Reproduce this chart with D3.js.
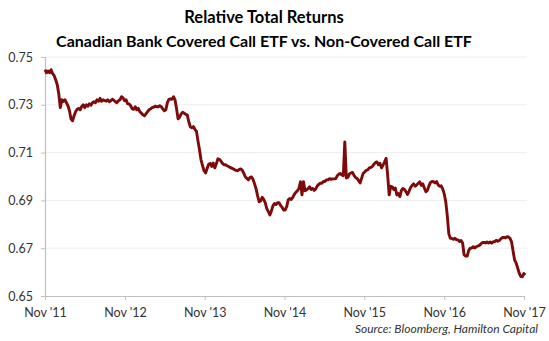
<!DOCTYPE html>
<html>
<head>
<meta charset="utf-8">
<script src="https://cdn.jsdelivr.net/npm/d3@7"></script>
<style>
  html, body { margin: 0; padding: 0; background: #fff; }
  svg { display: block; }
  text { font-family: Lato, "Open Sans", sans-serif; }
</style>
</head>
<body>
<svg id="chart" width="549" height="341"></svg>
<script>
// Weekly relative total return (covered call ETF / non-covered call ETF)
const seriesStart = "2011-11-04";
const relativeReturn = [
  0.7447, 0.7434, 0.7441, 0.7434, 0.7447, 0.7430, 0.7422, 0.7405, 0.7384, 0.7346,
  0.7288, 0.7321, 0.7314, 0.7321, 0.7309, 0.7296, 0.7275, 0.7241, 0.7233, 0.7254,
  0.7271, 0.7281, 0.7285, 0.7279, 0.7293, 0.7300, 0.7288, 0.7300, 0.7294, 0.7304,
  0.7298, 0.7309, 0.7313, 0.7309, 0.7321, 0.7315, 0.7327, 0.7315, 0.7321, 0.7317,
  0.7315, 0.7321, 0.7313, 0.7317, 0.7323, 0.7319, 0.7313, 0.7309, 0.7317, 0.7321,
  0.7334, 0.7329, 0.7317, 0.7321, 0.7304, 0.7304, 0.7296, 0.7283, 0.7281, 0.7292,
  0.7279, 0.7285, 0.7271, 0.7265, 0.7258, 0.7254, 0.7262, 0.7271, 0.7279, 0.7283,
  0.7288, 0.7290, 0.7294, 0.7292, 0.7292, 0.7296, 0.7292, 0.7283, 0.7275, 0.7279,
  0.7309, 0.7323, 0.7325, 0.7323, 0.7334, 0.7321, 0.7283, 0.7241, 0.7248, 0.7262,
  0.7269, 0.7265, 0.7260, 0.7258, 0.7229, 0.7208, 0.7204, 0.7209, 0.7197, 0.7189,
  0.7149, 0.7112, 0.7070, 0.7045, 0.7024, 0.7015, 0.7034, 0.7051, 0.7055, 0.7042,
  0.7056, 0.7036, 0.7053, 0.7074, 0.7072, 0.7065, 0.7055, 0.7049, 0.7049, 0.7045,
  0.7042, 0.7038, 0.7035, 0.7032, 0.7028, 0.7026, 0.7024, 0.7030, 0.7032, 0.7026,
  0.7013, 0.6998, 0.6992, 0.6986, 0.6996, 0.6998, 0.6988, 0.6969, 0.6948, 0.6919,
  0.6894, 0.6898, 0.6913, 0.6904, 0.6890, 0.6866, 0.6853, 0.6839, 0.6856, 0.6877,
  0.6887, 0.6883, 0.6890, 0.6890, 0.6879, 0.6871, 0.6860, 0.6860, 0.6874, 0.6902,
  0.6908, 0.6904, 0.6913, 0.6925, 0.6934, 0.6940, 0.6950, 0.6978, 0.6923, 0.6978,
  0.6940, 0.6944, 0.6950, 0.6957, 0.6946, 0.6950, 0.6942, 0.6948, 0.6961, 0.6967,
  0.6972, 0.6972, 0.6979, 0.6979, 0.6986, 0.6986, 0.6991, 0.6988, 0.6990, 0.6990,
  0.6990, 0.7003, 0.7009, 0.7013, 0.7007, 0.7003, 0.7145, 0.6994, 0.6996, 0.7011,
  0.7015, 0.7017, 0.7005, 0.6996, 0.6992, 0.6983, 0.6973, 0.6993, 0.7013, 0.7019,
  0.7026, 0.7028, 0.7036, 0.7038, 0.7042, 0.7051, 0.7058, 0.7061, 0.7049, 0.7055,
  0.7036, 0.7047, 0.7061, 0.7076, 0.7007, 0.6923, 0.6959, 0.6957, 0.6946, 0.6952,
  0.6923, 0.6929, 0.6916, 0.6942, 0.6950, 0.6946, 0.6936, 0.6925, 0.6938, 0.6954,
  0.6963, 0.6969, 0.6959, 0.6965, 0.6972, 0.6978, 0.6963, 0.6969, 0.6952, 0.6936,
  0.6942, 0.6961, 0.6975, 0.6979, 0.6978, 0.6973, 0.6979, 0.6965, 0.6959, 0.6961,
  0.6948, 0.6927, 0.6894, 0.6835, 0.6760, 0.6741, 0.6741, 0.6737, 0.6742, 0.6735,
  0.6735, 0.6728, 0.6732, 0.6722, 0.6672, 0.6667, 0.6667, 0.6691, 0.6700, 0.6701,
  0.6706, 0.6701, 0.6706, 0.6709, 0.6712, 0.6718, 0.6724, 0.6724, 0.6722, 0.6726,
  0.6722, 0.6726, 0.6721, 0.6727, 0.6727, 0.6733, 0.6729, 0.6732, 0.6739, 0.6745,
  0.6745, 0.6743, 0.6748, 0.6747, 0.6741, 0.6727, 0.6688, 0.6651, 0.6638, 0.6617,
  0.6596, 0.6582, 0.6580, 0.6594, 0.6588
];
const yTicks = [0.65, 0.67, 0.69, 0.71, 0.73, 0.75];
const xTickLabels = ["Nov '11", "Nov '12", "Nov '13", "Nov '14", "Nov '15", "Nov '16", "Nov '17"];
const titleLines = ["Relative Total Returns", "Canadian Bank Covered Call ETF vs. Non-Covered Call ETF"];
const sourceNote = "Source: Bloomberg, Hamilton Capital";

const svg = d3.select("#chart");
const start = d3.timeParse("%Y-%m-%d")(seriesStart);
const points = relativeReturn.map((v, i) => ({ date: d3.timeDay.offset(start, 7 * i), value: v }));
const tickDates = xTickLabels.map((_, k) => d3.timeYear.offset(start, k));

const plot = { left: 45, right: 524, top: 57, bottom: 296 };

const x = d3.scaleTime()
  .domain([tickDates[0], tickDates[tickDates.length - 1]])
  .range([plot.left, plot.right]);
const y = d3.scaleLinear()
  .domain([0.65, 0.75])
  .range([plot.bottom, plot.top]);

// Title
svg.append("g").selectAll("text")
  .data(titleLines)
  .join("text")
  .attr("x", 264)
  .attr("y", (d, i) => 23 + i * 24)
  .attr("text-anchor", "middle")
  .attr("font-size", (d, i) => i === 0 ? 16.5 : 16)
  .attr("font-weight", "bold")
  .attr("fill", "#000")
  .text(d => d);

// Horizontal gridlines
svg.append("g").selectAll("line")
  .data(yTicks.slice(1))
  .join("line")
  .attr("x1", plot.left)
  .attr("x2", 527)
  .attr("y1", d => y(d))
  .attr("y2", d => y(d))
  .attr("stroke", "#eeeeee")
  .attr("stroke-width", 1);

// Y axis
const yAxis = svg.append("g")
  .attr("transform", `translate(${plot.left},0)`)
  .call(d3.axisLeft(y).tickValues(yTicks).tickFormat(d3.format(".2f")).tickSize(4).tickPadding(8));
yAxis.select(".domain").attr("stroke", "#bfbfbf").attr("stroke-width", 1.2);
yAxis.selectAll(".tick line").attr("stroke", "#bfbfbf");
yAxis.selectAll(".tick text")
  .attr("font-family", "Lato, sans-serif")
  .attr("font-size", 12.5)
  .attr("fill", "#333");

// X axis
const xAxis = svg.append("g")
  .attr("transform", `translate(0,${plot.bottom})`)
  .call(d3.axisBottom(x).tickValues(tickDates).tickFormat((d, i) => xTickLabels[i]).tickSize(4).tickSizeOuter(0).tickPadding(8));
xAxis.select(".domain").attr("stroke", "#bfbfbf").attr("stroke-width", 1.2);
xAxis.selectAll(".tick line").attr("stroke", "#bfbfbf");
xAxis.selectAll(".tick text")
  .attr("font-family", "Lato, sans-serif")
  .attr("font-size", 12.5)
  .attr("fill", "#333");

// Series line
const line = d3.line()
  .x(d => x(d.date))
  .y(d => y(d.value));
svg.append("path")
  .datum(points)
  .attr("d", line)
  .attr("fill", "none")
  .attr("stroke", "#7d0b0b")
  .attr("stroke-width", 2.9)
  .attr("stroke-linejoin", "round");

// Source note
svg.append("text")
  .attr("x", 538)
  .attr("y", 333)
  .attr("text-anchor", "end")
  .attr("font-size", 12)
  .attr("font-style", "italic")
  .attr("fill", "#333")
  .text(sourceNote);
</script>
</body>
</html>
